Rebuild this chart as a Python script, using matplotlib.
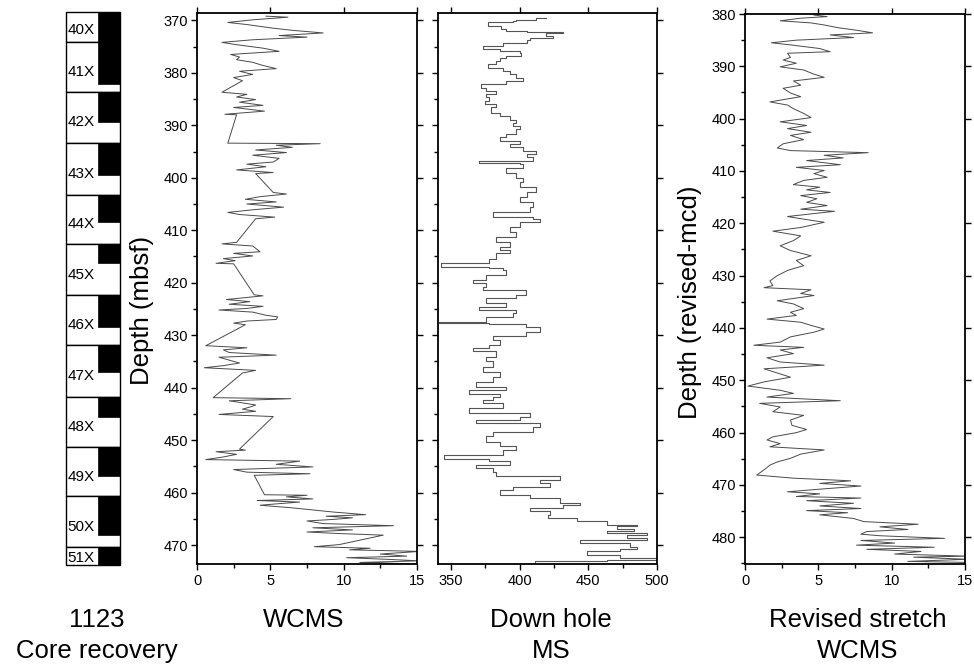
import numpy as np
import matplotlib.pyplot as plt
from matplotlib.patches import Rectangle
from matplotlib.ticker import MultipleLocator

plt.rcParams['font.family'] = ['Liberation Sans', 'DejaVu Sans']

# core recovery column (mbsf)
core_names = ['40X', '41X', '42X', '43X', '44X', '45X', '46X', '47X', '48X', '49X', '50X', '51X']
core_top = [368.5, 374.2, 383.7, 393.3, 403.2, 412.7, 422.3, 431.8, 441.8, 451.3, 460.7, 470.4]
core_bot = [374.2, 383.7, 393.3, 403.2, 412.7, 422.3, 431.8, 441.8, 451.3, 460.7, 470.4, 473.8]
core_rec = [5.7, 8.0, 5.6, 6.1, 5.2, 3.5, 6.1, 5.2, 3.8, 5.5, 7.4, 3.4]

# WCMS vs depth (mbsf)
wcms_depth = [369.2, 369.4, 369.9, 370.4, 370.8, 371.5, 371.9, 372.4, 372.9, 373.2, 373.7, 374.2,
              374.6, 375.3, 375.9, 376.5, 377.0, 377.5, 378.0, 378.6, 379.2, 379.7, 380.3, 380.9,
              381.5, 383.7, 384.1, 384.6, 385.1, 385.6, 386.2, 386.6, 387.3, 387.9, 388.0, 393.4,
              393.5, 393.8, 394.2, 394.7, 395.2, 395.7, 396.3, 397.0, 397.4, 397.9, 398.5, 399.0,
              399.2, 402.8, 403.1, 403.6, 404.1, 404.6, 405.0, 405.6, 406.1, 406.6, 407.0, 407.5,
              407.8, 412.3, 412.6, 413.0, 414.1, 414.4, 414.9, 415.4, 415.8, 416.3, 416.4, 422.3,
              422.5, 423.2, 423.6, 424.1, 424.5, 424.9, 425.2, 425.6, 426.2, 426.5, 427.0, 427.3,
              427.7, 428.0, 432.0, 432.4, 432.8, 433.3, 433.8, 434.2, 434.6, 435.3, 435.8, 436.2,
              436.7, 437.2, 441.9, 442.1, 442.5, 442.8, 443.3, 443.7, 444.1, 444.5, 445.1, 445.5,
              451.7, 451.9, 452.2, 452.7, 453.2, 453.7, 454.0, 454.6, 455.1, 455.6, 456.1, 456.4,
              456.7, 460.4, 460.5, 460.8, 461.2, 461.5, 461.8, 462.1, 462.4, 462.9, 463.3, 463.7,
              464.2, 464.5, 464.8, 465.1, 465.4, 465.9, 466.3, 466.7, 467.1, 467.5, 467.8, 468.1,
              469.9, 470.3, 470.6, 470.9, 471.2, 471.7, 472.1, 472.4, 472.7, 473.0, 473.3, 473.6]
wcms_val = [4.7, 6.2, 3.8, 2.1, 3.4, 5.2, 6.5, 8.6, 5.6, 7.5, 3.8, 1.7,
            2.6, 4.5, 5.6, 2.3, 2.9, 2.7, 3.8, 4.5, 5.4, 2.9, 3.8, 2.5,
            3.1, 1.7, 3.4, 2.7, 4.0, 2.9, 4.5, 2.5, 4.6, 1.9, 2.7, 2.1,
            8.4, 5.4, 6.5, 4.0, 6.1, 3.8, 5.6, 5.2, 3.4, 4.7, 2.7, 5.2,
            4.0, 5.2, 6.1, 4.3, 3.3, 5.4, 3.4, 5.9, 3.8, 2.1, 2.9, 5.3,
            4.0, 2.7, 1.7, 3.8, 4.3, 2.5, 3.8, 1.8, 2.6, 1.3, 2.5, 3.9,
            4.5, 2.0, 3.6, 2.2, 4.5, 3.4, 1.5, 3.8, 4.7, 5.5, 5.4, 3.4,
            2.5, 3.3, 0.6, 3.4, 1.8, 2.2, 5.4, 1.5, 2.0, 2.9, 1.8, 0.5,
            4.0, 3.1, 1.1, 6.4, 2.2, 2.9, 4.0, 3.6, 3.1, 4.0, 1.5, 5.2,
            2.9, 3.3, 1.3, 2.7, 1.8, 0.6, 7.0, 5.4, 7.9, 2.5, 3.4, 7.7,
            3.9, 4.6, 7.5, 6.1, 7.9, 4.1, 7.0, 5.6, 4.3, 6.5, 7.9, 9.3,
            11.5, 8.8, 10.6, 9.3, 7.5, 8.6, 13.4, 7.9, 10.6, 7.5, 9.7, 12.7,
            9.7, 8.0, 11.8, 10.4, 15.2, 12.5, 14.3, 10.2, 12.9, 15.2, 11.1, 15.2]

# down hole MS vs depth (mbsf)
dh_depth = [369.6, 369.9, 370.2, 370.4, 371.1, 371.6, 372.1, 372.3, 372.4, 373.0, 373.4, 373.8,
            374.3, 374.6, 374.9, 375.4, 375.9, 376.2, 376.8, 377.2, 377.8, 378.4, 379.1, 379.7,
            380.3, 380.9, 381.6, 382.2, 382.8, 383.5, 384.1, 384.7, 385.4, 386.0, 386.6, 387.6,
            388.2, 388.9, 389.5, 390.1, 390.8, 391.7, 392.3, 393.0, 393.6, 394.2, 394.9, 395.5,
            396.1, 396.8, 397.2, 397.4, 398.1, 399.0, 400.0, 400.9, 401.8, 402.8, 403.7, 404.7,
            405.6, 406.6, 407.5, 407.8, 408.5, 409.4, 410.4, 411.3, 412.3, 413.2, 413.8, 414.4,
            415.4, 416.3, 417.0, 417.1, 417.6, 418.5, 419.5, 420.1, 420.8, 421.4, 422.3, 423.0,
            423.9, 424.6, 425.2, 425.8, 426.5, 427.4, 427.7, 427.9, 428.5, 429.3, 430.2, 430.9,
            431.9, 432.5, 433.1, 434.1, 435.0, 436.0, 437.0, 437.9, 438.9, 439.8, 440.4, 441.2,
            441.7, 442.3, 443.0, 443.9, 444.9, 445.5, 446.2, 446.8, 447.4, 448.4, 449.3, 450.3,
            451.2, 451.9, 452.8, 453.5, 453.9, 454.7, 455.4, 456.0, 456.9, 457.6, 458.2, 458.9,
            459.5, 460.4, 461.0, 461.9, 462.4, 462.9, 463.5, 464.2, 464.8, 465.4, 466.1, 466.4,
            466.9, 467.4, 467.7, 468.1, 468.7, 469.0, 469.6, 470.3, 470.7, 471.2, 471.9, 472.5,
            472.8, 473.1, 473.3]
dh_ms = [419.5, 412.0, 397.6, 395.0, 376.8, 386.6, 390.0, 405.0, 431.7, 419.5, 424.4, 407.3,
         405.0, 387.8, 387.8, 373.2, 385.4, 400.0, 401.2, 390.2, 385.4, 383.0, 376.8, 387.8,
         392.7, 397.6, 402.4, 390.2, 372.0, 375.6, 383.0, 375.6, 378.0, 374.4, 383.0, 379.3,
         385.4, 392.7, 397.6, 395.1, 400.0, 397.6, 390.2, 385.4, 400.0, 392.7, 402.4, 412.2,
         405.4, 409.8, 370.7, 400.0, 402.4, 390.2, 397.6, 402.4, 400.0, 412.2, 405.0, 400.0,
         409.8, 407.3, 380.5, 409.8, 414.6, 400.0, 392.7, 397.6, 383.0, 392.7, 385.4, 392.7,
         383.0, 378.0, 342.7, 378.0, 387.8, 390.2, 375.6, 365.9, 375.6, 373.2, 404.9, 397.6,
         375.6, 390.2, 370.7, 397.6, 395.1, 375.6, 341.5, 378.0, 404.9, 414.6, 404.9, 380.5,
         385.4, 378.0, 365.9, 383.0, 375.6, 380.5, 373.2, 385.4, 380.5, 368.3, 390.2, 363.4,
         385.4, 380.5, 373.2, 387.8, 363.4, 407.3, 400.0, 368.3, 414.6, 409.8, 380.5, 375.6,
         385.4, 397.6, 387.8, 345.1, 378.0, 392.7, 368.3, 380.5, 383.0, 429.3, 414.6, 422.0,
         395.1, 385.4, 407.3, 429.3, 443.9, 431.7, 407.3, 422.0, 420.7, 441.5, 463.4, 485.4,
         470.7, 483.0, 463.4, 492.7, 478.0, 492.7, 443.9, 480.5, 485.4, 473.2, 448.8, 473.2,
         500.0, 463.4, 411.0]

# revised stretch WCMS vs depth (revised-mcd)
rev_depth = [380.2, 380.5, 380.8, 381.3, 381.7, 382.1, 382.6, 383.1, 383.6, 384.0, 384.5, 385.0,
             385.5, 385.9, 386.6, 387.2, 387.5, 388.3, 388.8, 389.4, 390.1, 390.7, 391.5, 392.1,
             392.8, 393.6, 394.2, 395.1, 395.8, 396.8, 397.4, 398.1, 399.0, 399.8, 400.6, 401.3,
             401.9, 402.6, 403.2, 404.0, 404.8, 405.6, 406.1, 406.5, 407.0, 407.5, 408.0, 408.8,
             409.3, 409.9, 410.5, 411.2, 411.8, 412.6, 413.1, 413.6, 414.1, 414.7, 415.3, 416.0,
             416.6, 417.3, 417.7, 418.7, 419.2, 419.8, 420.8, 421.5, 422.4, 423.3, 424.3, 425.2,
             426.2, 427.1, 428.1, 429.0, 430.0, 431.0, 431.9, 432.3, 432.7, 433.4, 433.8, 434.8,
             435.4, 436.3, 437.0, 437.6, 438.3, 438.9, 439.5, 440.2, 440.8, 441.7, 442.7, 443.3,
             443.7, 444.2, 444.9, 445.7, 446.5, 447.1, 447.8, 448.6, 449.4, 450.3, 451.1, 451.9,
             452.5, 453.2, 453.9, 454.4, 455.1, 456.0, 456.7, 457.6, 458.6, 459.4, 460.0, 460.8,
             461.4, 462.1, 462.7, 463.3, 464.1, 464.9, 465.6, 466.2, 467.1, 468.1, 468.7, 469.2,
             469.7, 470.2, 470.8, 471.3, 471.7, 472.2, 472.5, 473.0, 473.5, 474.0, 474.5, 474.9,
             475.3, 475.7, 476.4, 477.0, 477.5, 478.0, 478.5, 478.9, 479.4, 479.7, 480.2, 480.6,
             481.1, 481.5, 481.9, 482.3, 482.7, 483.2, 483.6, 483.8, 484.2, 484.6, 484.8]
rev_val = [4.7, 5.6, 3.8, 2.4, 4.5, 5.4, 6.3, 7.6, 8.7, 5.8, 7.4, 3.5,
           1.8, 3.1, 5.1, 5.8, 2.9, 3.1, 2.6, 3.5, 2.4, 4.0, 4.7, 5.4,
           3.3, 3.8, 2.6, 3.1, 3.8, 1.7, 2.9, 3.3, 4.0, 4.5, 2.4, 4.2,
           2.9, 4.5, 3.1, 4.0, 2.6, 2.2, 3.1, 8.4, 5.4, 6.7, 4.2, 6.5,
           3.5, 5.4, 4.7, 5.6, 4.0, 3.3, 5.1, 4.2, 5.8, 3.8, 4.9, 4.2,
           5.6, 3.8, 6.1, 2.9, 4.0, 5.4, 3.8, 1.9, 3.8, 3.3, 2.4, 3.1,
           4.5, 3.5, 4.0, 2.9, 2.2, 1.7, 1.9, 1.3, 4.5, 3.8, 4.7, 2.2,
           3.3, 4.0, 3.1, 3.5, 1.5, 3.8, 4.5, 5.4, 4.7, 3.1, 2.4, 0.6,
           4.0, 2.4, 3.3, 1.5, 2.4, 5.4, 1.3, 2.2, 3.1, 1.3, 0.2, 2.4,
           3.3, 1.5, 6.5, 1.0, 2.4, 1.9, 4.0, 3.1, 3.2, 4.2, 3.5, 1.9,
           1.5, 2.4, 1.7, 5.4, 3.8, 3.1, 2.2, 1.7, 1.3, 0.8, 3.3, 7.2,
           5.1, 7.9, 5.1, 2.9, 5.1, 3.5, 7.9, 4.2, 7.4, 5.1, 7.9, 4.2,
           7.0, 5.1, 7.4, 8.1, 11.8, 9.2, 11.1, 8.3, 7.9, 9.2, 13.6, 7.9,
           10.2, 7.6, 12.9, 8.3, 12.0, 10.2, 15.2, 11.5, 15.2, 11.1, 15.2]

W, H = 974, 664
fig = plt.figure(figsize=(W / 100, H / 100), dpi=100)

def px_axes(left, right, top, bottom):
    return fig.add_axes([left / W, 1 - bottom / H, (right - left) / W, (bottom - top) / H])

line_col = '#4a4a4a'

def style(ax, left_labels=True):
    for s in ax.spines.values():
        s.set_linewidth(1.3)
    ax.tick_params(axis='both', which='both', labelsize=10.5, width=1.0)
    ax.tick_params(which='major', length=4.5)
    ax.tick_params(which='minor', length=3)
    ax.tick_params(axis='x', top=True, direction='out', pad=3)
    ax.tick_params(axis='y', right=True, direction='out', labelleft=left_labels, pad=2)

# core recovery column
ax0 = px_axes(66, 120, 13, 564)
ax0.set_xlim(0, 1)
ax0.set_ylim(473.6, 368.6)
ax0.axis('off')
for name, t, b, r in zip(core_names, core_top, core_bot, core_rec):
    ax0.add_patch(Rectangle((0, t), 1, b - t, facecolor='white', edgecolor='black', lw=1.0, clip_on=False))
    ax0.add_patch(Rectangle((0.6, t), 0.4, r, facecolor='black', edgecolor='black', lw=0.5, clip_on=False))
    ax0.text(0.03, t + min(6.4, 0.6 * (b - t)), name, fontsize=11, ha='left', va='center')

# WCMS
ax1 = px_axes(197, 417, 13, 564)
ax1.plot(wcms_val, wcms_depth, color=line_col, lw=0.7)
ax1.set_xlim(0, 15)
ax1.set_ylim(473.6, 368.6)
ax1.xaxis.set_major_locator(MultipleLocator(5))
ax1.xaxis.set_minor_locator(MultipleLocator(2.5))
ax1.yaxis.set_major_locator(MultipleLocator(10))
ax1.yaxis.set_minor_locator(MultipleLocator(5))
style(ax1)

# Down hole MS
ax2 = px_axes(438, 657, 13, 564)
ax2.plot(dh_ms, dh_depth, color='#555555', lw=0.8, drawstyle='steps-post')
ax2.set_xlim(340.5, 500)
ax2.set_ylim(473.6, 368.6)
ax2.xaxis.set_major_locator(MultipleLocator(50))
ax2.xaxis.set_minor_locator(MultipleLocator(25))
ax2.yaxis.set_major_locator(MultipleLocator(10))
ax2.yaxis.set_minor_locator(MultipleLocator(5))
style(ax2, left_labels=False)

# Revised stretch WCMS
ax3 = px_axes(745, 965, 14, 564)
ax3.plot(rev_val, rev_depth, color=line_col, lw=0.7)
ax3.set_xlim(0, 15)
ax3.set_ylim(485.1, 380)
ax3.xaxis.set_major_locator(MultipleLocator(5))
ax3.xaxis.set_minor_locator(MultipleLocator(2.5))
ax3.yaxis.set_major_locator(MultipleLocator(10))
ax3.yaxis.set_minor_locator(MultipleLocator(5))
style(ax3)

fig.text(142 / W, 1 - 310 / H, 'Depth (mbsf)', rotation=90, fontsize=18.5, ha='center', va='center')
fig.text(690 / W, 1 - 302 / H, 'Depth (revised-mcd)', rotation=90, fontsize=18.5, ha='center', va='center')

bottom_labels = [(97, '1123', 'Core recovery'), (304, 'WCMS', ''),
                 (551, 'Down hole', 'MS'), (858, 'Revised stretch', 'WCMS')]
for x, l1, l2 in bottom_labels:
    fig.text(x / W, 1 - 620 / H, l1, fontsize=18.5, ha='center', va='center')
    if l2:
        fig.text(x / W, 1 - 651 / H, l2, fontsize=18.5, ha='center', va='center')

fig.savefig('out.png', dpi=100)
